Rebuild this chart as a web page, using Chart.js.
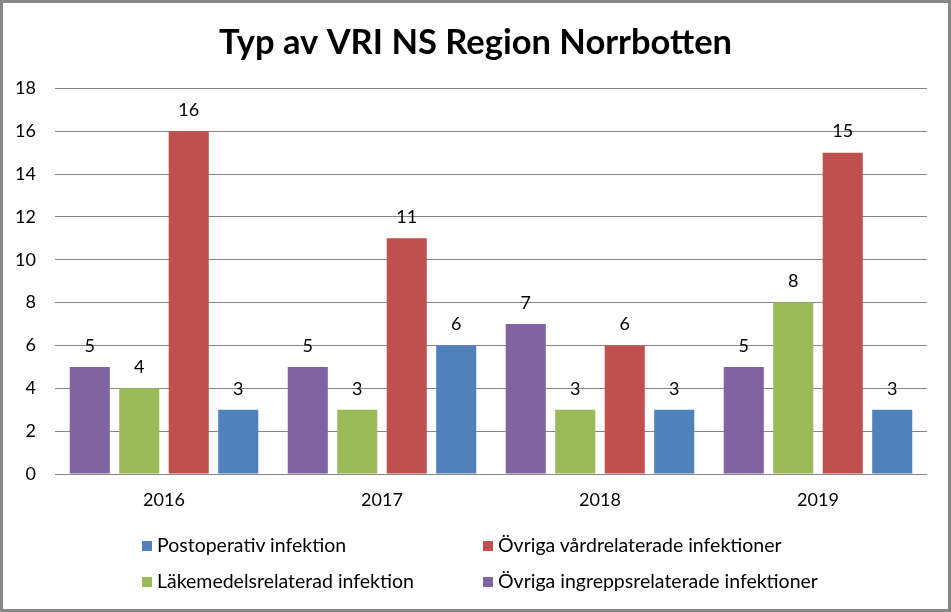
<!DOCTYPE html>
<html>
<head>
<meta charset="utf-8">
<script src="https://cdn.jsdelivr.net/npm/chart.js@4"></script>
<style>
  html, body { margin: 0; padding: 0; background: #fff; }
  #wrap {
    position: relative;
    width: 951px;
    height: 612px;
    box-sizing: border-box;
    border: 3px solid #878787;
    background: #fff;
  }
  #chart { display: block; }
  .legend {
    position: absolute;
    font-family: Lato, "Open Sans", sans-serif;
    font-size: 19.5px;
    color: #000;
    white-space: nowrap;
    line-height: 22px;
  }
  .legend i {
    display: inline-block;
    width: 10px;
    height: 10px;
    margin-right: 5px;
    vertical-align: 1px;
  }
</style>
</head>
<body>
<div id="wrap">
  <canvas id="chart" width="945" height="606"></canvas>
  <div id="legend"></div>
</div>
<script>
// data
const years = ["2016", "2017", "2018", "2019"];
const ingreppsrelaterade = [5, 5, 7, 5];
const lakemedelsrelaterad = [4, 3, 3, 8];
const vardrelaterade = [16, 11, 6, 15];
const postoperativ = [3, 6, 3, 3];
const yMax = 18;
const yStep = 2;

const COLORS = {
  purple: "#8064A2",
  green: "#9BBB59",
  red: "#C0504D",
  blue: "#4F81BD"
};

const FONT = "Lato, 'Open Sans', sans-serif";

// bars left to right inside each year
const datasets = [
  { label: "Övriga ingreppsrelaterade infektioner", data: ingreppsrelaterade, backgroundColor: COLORS.purple },
  { label: "Läkemedelsrelaterad infektion", data: lakemedelsrelaterad, backgroundColor: COLORS.green },
  { label: "Övriga vårdrelaterade infektioner", data: vardrelaterade, backgroundColor: COLORS.red },
  { label: "Postoperativ infektion", data: postoperativ, backgroundColor: COLORS.blue }
];

// value above every bar
const barValues = {
  id: "barValues",
  afterDatasetsDraw(chart) {
    const ctx = chart.ctx;
    ctx.save();
    ctx.font = "18px " + FONT;
    ctx.fillStyle = "#000";
    ctx.textAlign = "center";
    ctx.textBaseline = "middle";
    chart.data.datasets.forEach((ds, i) => {
      chart.getDatasetMeta(i).data.forEach((bar, j) => {
        ctx.fillText(String(ds.data[j]), bar.x, bar.y - 21);
      });
    });
    ctx.restore();
  }
};

// the right padding pushes the title off centre, stretch it back to the full canvas
const centerTitle = {
  id: "centerTitle",
  afterLayout(chart) {
    const t = chart.titleBlock;
    if (!t) return;
    t.left = 0;
    t.right = chart.width;
    t.width = chart.width;
  }
};

new Chart(document.getElementById("chart"), {
  type: "bar",
  data: { labels: years, datasets },
  options: {
    responsive: false,
    animation: false,
    datasets: {
      bar: { categoryPercentage: 0.908, barPercentage: 0.81 }
    },
    layout: { padding: { left: 0, right: 21, top: 0, bottom: 95 } },
    plugins: {
      legend: { display: false },
      tooltip: { enabled: false },
      title: {
        display: true,
        text: "Typ av VRI NS Region Norrbotten",
        color: "#000",
        font: { family: FONT, size: 34.5, weight: "bold", lineHeight: 1.2 },
        padding: { top: 19, bottom: 25 }
      }
    },
    scales: {
      x: {
        grid: { display: false, drawTicks: false },
        border: { display: false },
        ticks: { color: "#000", padding: 15, font: { family: FONT, size: 18 } },
        afterFit(s) { s.height = 40; }
      },
      y: {
        min: 0,
        max: yMax,
        grid: { color: "#868686", lineWidth: 1, drawTicks: false },
        border: { display: false },
        ticks: { stepSize: yStep, color: "#000", padding: 19, font: { family: FONT, size: 18 } },
        afterFit(s) { s.width = 52; }
      }
    }
  },
  plugins: [barValues, centerTitle]
});

// legend in two columns, same order as the original
const legendItems = [
  { text: "Postoperativ infektion", color: COLORS.blue, left: 139, top: 531 },
  { text: "Övriga vårdrelaterade infektioner", color: COLORS.red, left: 480, top: 531 },
  { text: "Läkemedelsrelaterad infektion", color: COLORS.green, left: 139, top: 567 },
  { text: "Övriga ingreppsrelaterade infektioner", color: COLORS.purple, left: 480, top: 567 }
];
const legend = document.getElementById("legend");
legendItems.forEach(item => {
  const el = document.createElement("div");
  el.className = "legend";
  el.style.left = item.left + "px";
  el.style.top = item.top + "px";
  el.innerHTML = `<i style="background:${item.color}"></i>`;
  el.appendChild(document.createTextNode(item.text));
  legend.appendChild(el);
});
</script>
</body>
</html>
